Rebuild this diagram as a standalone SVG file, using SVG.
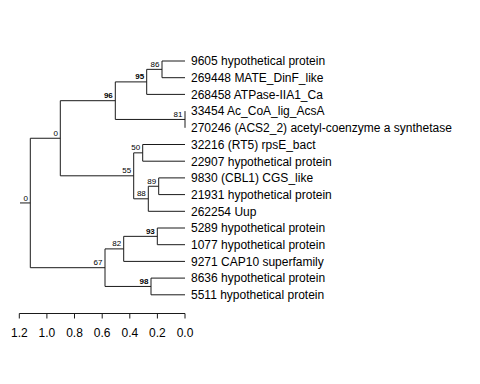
<svg xmlns="http://www.w3.org/2000/svg" width="480" height="384" viewBox="0 0 480 384">
<style>
.e{fill:none;stroke:#1a1a1a;stroke-width:1}
.lf{font-family:"Liberation Sans",Arial,sans-serif;font-size:12px;fill:#000}
.bs{font-family:"Liberation Sans",Arial,sans-serif;font-size:8px;fill:#000;text-anchor:end}
.b{font-weight:bold}
.ax{font-family:"Liberation Sans",Arial,sans-serif;font-size:12px;fill:#000;text-anchor:middle}
</style>
<rect width="480" height="384" fill="#fff"/>
<g id="connectors" class="e">
<path d="M20 202.95H30.3M30.3 138.25V267.7M30.3 138.25H60.3M30.3 267.7H105"/>
<path d="M60.3 100.7V175.8M60.3 100.7H115.3M60.3 175.8H133.7"/>
<path d="M115.3 81.9V119.45M115.3 81.9H146.7M115.3 119.45H185"/>
<path d="M146.7 69.35V94.4M146.7 69.35H162M146.7 94.4H185"/>
<path d="M162 61V77.7M162 61H185M162 77.7H185"/>
<path d="M185 111.1V127.8"/>
<path d="M133.7 152.85V198.8M133.7 152.85H142.7M133.7 198.8H148.3"/>
<path d="M142.7 144.5V161.2M142.7 144.5H185M142.7 161.2H185"/>
<path d="M148.3 186.25V211.3M148.3 186.25H158.7M148.3 211.3H185"/>
<path d="M158.7 177.9V194.6M158.7 177.9H185M158.7 194.6H185"/>
<path d="M105 248.9V286.45M105 248.9H123.7M105 286.45H151"/>
<path d="M123.7 236.35V261.4M123.7 236.35H157.3M123.7 261.4H185"/>
<path d="M157.3 228V244.7M157.3 228H185M157.3 244.7H185"/>
<path d="M151 278.1V294.8M151 278.1H185M151 294.8H185"/>
</g>
<g id="bootstrap">
<text class="bs" x="28" y="200.5">0</text>
<text class="bs" x="58" y="135.8">0</text>
<text class="bs b" x="112.8" y="98.2">96</text>
<text class="bs b" x="144.2" y="79.4">95</text>
<text class="bs" x="159.5" y="66.9">86</text>
<text class="bs" x="182.5" y="117">81</text>
<text class="bs" x="131.2" y="173.3">55</text>
<text class="bs" x="140.2" y="150.4">50</text>
<text class="bs" x="145.8" y="196.3">88</text>
<text class="bs" x="156.2" y="183.8">89</text>
<text class="bs" x="102.5" y="265.2">67</text>
<text class="bs" x="121.2" y="246.4">82</text>
<text class="bs b" x="154.8" y="233.9">93</text>
<text class="bs b" x="148.5" y="284">98</text>
</g>
<g id="leaves">
<text id="leaf0" class="lf" x="191" y="65.3">9605 hypothetical protein</text>
<text id="leaf1" class="lf" x="191" y="82">269448 MATE_DinF_like</text>
<text id="leaf2" class="lf" x="191" y="98.7">268458 ATPase-IIA1_Ca</text>
<text id="leaf3" class="lf" x="191" y="115.4">33454 Ac_CoA_lig_AcsA</text>
<text id="leaf4" class="lf" x="191" y="132.1">270246 (ACS2_2) acetyl-coenzyme a synthetase</text>
<text id="leaf5" class="lf" x="191" y="148.8">32216 (RT5) rpsE_bact</text>
<text id="leaf6" class="lf" x="191" y="165.5">22907 hypothetical protein</text>
<text id="leaf7" class="lf" x="191" y="182.2">9830 (CBL1) CGS_like</text>
<text id="leaf8" class="lf" x="191" y="198.9">21931 hypothetical protein</text>
<text id="leaf9" class="lf" x="191" y="215.6">262254 Uup</text>
<text id="leaf10" class="lf" x="191" y="232.3">5289 hypothetical protein</text>
<text id="leaf11" class="lf" x="191" y="249">1077 hypothetical protein</text>
<text id="leaf12" class="lf" x="191" y="265.7">9271 CAP10 superfamily</text>
<text id="leaf13" class="lf" x="191" y="282.4">8636 hypothetical protein</text>
<text id="leaf14" class="lf" x="191" y="299.1">5511 hypothetical protein</text>
</g>
<g id="axis">
<path class="e" d="M19.3 313.5H185M19.3 313.5V318.5M46.9 313.5V318.5M74.5 313.5V318.5M102.2 313.5V318.5M129.8 313.5V318.5M157.4 313.5V318.5M185 313.5V318.5"/>
<text class="ax" x="19.3" y="337">1.2</text>
<text class="ax" x="46.9" y="337">1.0</text>
<text class="ax" x="74.5" y="337">0.8</text>
<text class="ax" x="102.2" y="337">0.6</text>
<text class="ax" x="129.8" y="337">0.4</text>
<text class="ax" x="157.4" y="337">0.2</text>
<text class="ax" x="185" y="337">0.0</text>
</g>
</svg>
